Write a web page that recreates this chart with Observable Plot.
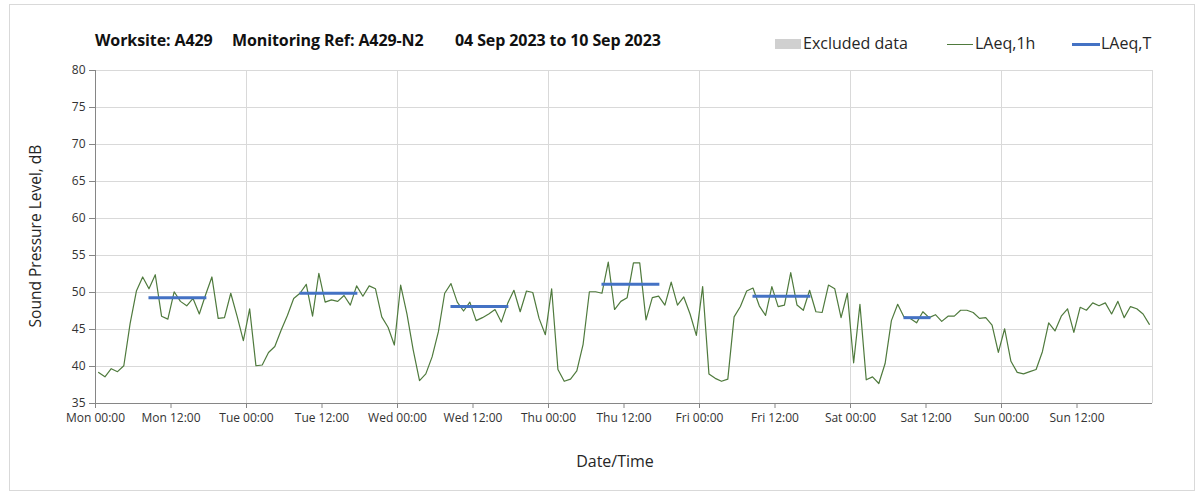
<!DOCTYPE html>
<html><head><meta charset="utf-8">
<script src="https://cdn.jsdelivr.net/npm/d3@7"></script>
<script src="https://cdn.jsdelivr.net/npm/@observablehq/plot@0.6"></script>
<style>
body{margin:0;background:#fff;}
#wrap{position:relative;width:1203px;height:495px;overflow:hidden;font-family:"Open Sans",sans-serif;color:#1a1a1a;background:#fff}
#frame{position:absolute;left:9px;top:4px;width:1186px;height:487px;border:1px solid #d9d9d9;box-sizing:border-box}
.t{position:absolute;top:29px;font-weight:bold;font-size:16px;white-space:pre;color:#111;letter-spacing:-0.1px}
.lg{position:absolute;top:32px;font-size:16px;white-space:pre;color:#262626}
.sw{position:absolute}
#ylab{position:absolute;left:35px;top:236px;transform:translate(-50%,-50%) rotate(-90deg);font-size:15.5px;white-space:pre;color:#262626}
#xlab{position:absolute;left:615px;top:461px;transform:translate(-50%,-50%);font-size:16px;color:#262626}
#chart{position:absolute;left:0;top:0}
</style></head>
<body>
<div id="wrap">
  <div id="frame"></div>
  <div id="chart"></div>
  <span class="t" style="left:95px">Worksite: A429</span>
  <span class="t" style="left:232px">Monitoring Ref: A429-N2</span>
  <span class="t" style="left:455px">04 Sep 2023 to 10 Sep 2023</span>
  <div class="sw" style="left:775px;top:39px;width:26px;height:10px;background:#d0d0d0"></div>
  <span class="lg" style="left:803px">Excluded data</span>
  <div class="sw" style="left:947px;top:44px;width:26px;height:1px;background:#4f7a3d"></div>
  <span class="lg" style="left:975px">LAeq,1h</span>
  <div class="sw" style="left:1072px;top:43px;width:28px;height:3px;background:#4472c4"></div>
  <span class="lg" style="left:1101px">LAeq,T</span>
  <div id="ylab">Sound Pressure Level, dB</div>
  <div id="xlab">Date/Time</div>
</div>
<script>
// Hourly LAeq,1h values (dB), one array per day, hours 00..23
const mon = [39.2,38.6,39.7,39.3,40.1,45.8,50.2,52.1,50.5,52.4,46.8,46.4,50.1,48.8,48.2,49.2,47.1,49.7,52.1,46.5,46.6,49.9,46.8,43.5];
const tue = [47.8,40.1,40.2,41.9,42.7,44.9,46.9,49.2,49.9,51.1,46.8,52.6,48.7,49.0,48.8,49.6,48.3,50.9,49.5,50.9,50.5,46.7,45.3,42.9];
const wed = [51.0,47.1,42.2,38.1,39.0,41.3,44.7,49.9,51.2,48.7,47.5,48.7,46.2,46.6,47.1,47.7,46.0,48.5,50.3,47.4,50.2,50.0,46.5,44.3];
const thu = [50.5,39.6,38.0,38.3,39.4,43.0,50.1,50.1,49.9,54.1,47.7,48.8,49.3,54.0,54.0,46.3,49.3,49.5,48.3,51.4,48.3,49.4,47.1,44.2];
const fri = [50.8,39.0,38.4,38.0,38.3,46.7,48.1,50.2,50.6,48.2,46.9,50.8,48.1,48.3,52.7,48.3,47.6,50.3,47.4,47.3,51.0,50.5,46.6,49.9];
const sat = [40.5,48.4,38.2,38.6,37.7,40.4,46.2,48.4,46.7,46.5,45.9,47.4,46.6,47.0,46.1,46.8,46.8,47.6,47.6,47.3,46.5,46.6,45.6,41.9];
const sun = [45.1,40.7,39.2,39.0,39.3,39.6,42.0,45.9,44.8,46.8,47.8,44.6,48.0,47.6,48.6,48.2,48.6,47.1,48.8,46.6,48.1,47.8,47.1,45.7];

// LAeq,T period values per day (Mon..Sat), start and end hour of each period
const periodDay   = [0, 1, 2, 3, 4, 5];
const periodStart = [8.5, 8.5, 8.5, 8.5, 8.5, 8.5];
const periodEnd   = [17.7, 17.7, 17.7, 17.7, 17.7, 12.8];
const periodValue = [49.3, 49.9, 48.1, 51.1, 49.5, 46.6];

// Axis ticks
const yTicks = [35, 40, 45, 50, 55, 60, 65, 70, 75, 80];
const xTickHours = [0,12,24,36,48,60,72,84,96,108,120,132,144,156];
const gridDays = [1,2,3,4,5,6,7];

const t0 = Date.UTC(2023, 8, 4); // Mon 04 Sep 2023
const H = 3600e3;
const midOffset = 0.5; // hourly values plotted at the middle of each hour
const at = h => new Date(t0 + h * H);

const days = [mon, tue, wed, thu, fri, sat, sun];
const hourly = days.flatMap((vals, d) => vals.map((v, h) => ({time: at(d * 24 + h + midOffset), value: v})));
const periods = periodDay.map((d, i) => ({x1: at(d * 24 + periodStart[i]), x2: at(d * 24 + periodEnd[i]), y: periodValue[i]}));

const fmt = d3.utcFormat("%a %H:%M");

const chart = Plot.plot({
  width: 1203, height: 495,
  marginLeft: 95, marginRight: 51, marginTop: 70, marginBottom: 92,
  style: {fontFamily: "'Open Sans', sans-serif", fontSize: "12px", color: "#333", background: "transparent"},
  x: {type: "utc", domain: [at(0), at(168)]},
  y: {domain: [35, 80]},
  marks: [
    Plot.gridY(yTicks.slice(1), {stroke: "#d9d9d9", strokeOpacity: 1}),
    Plot.gridX(gridDays.map(d => at(d * 24)), {stroke: "#d9d9d9", strokeOpacity: 1}),
    Plot.axisY(yTicks, {tickSize: 6, tickPadding: 4, stroke: "#868686", label: null}),
    Plot.axisX(xTickHours.map(h => at(h)), {tickSize: 5, tickPadding: 5, tickFormat: fmt, stroke: "#868686", label: null}),
    Plot.ruleX([at(0)], {stroke: "#868686"}),
    Plot.ruleY([35], {stroke: "#868686"}),
    Plot.line(hourly, {x: "time", y: "value", stroke: "#4f7a3d", strokeWidth: 1.2}),
    Plot.ruleY(periods, {x1: "x1", x2: "x2", y: "y", stroke: "#4472c4", strokeWidth: 3})
  ]
});
document.getElementById("chart").appendChild(chart);
</script>
</body></html>
